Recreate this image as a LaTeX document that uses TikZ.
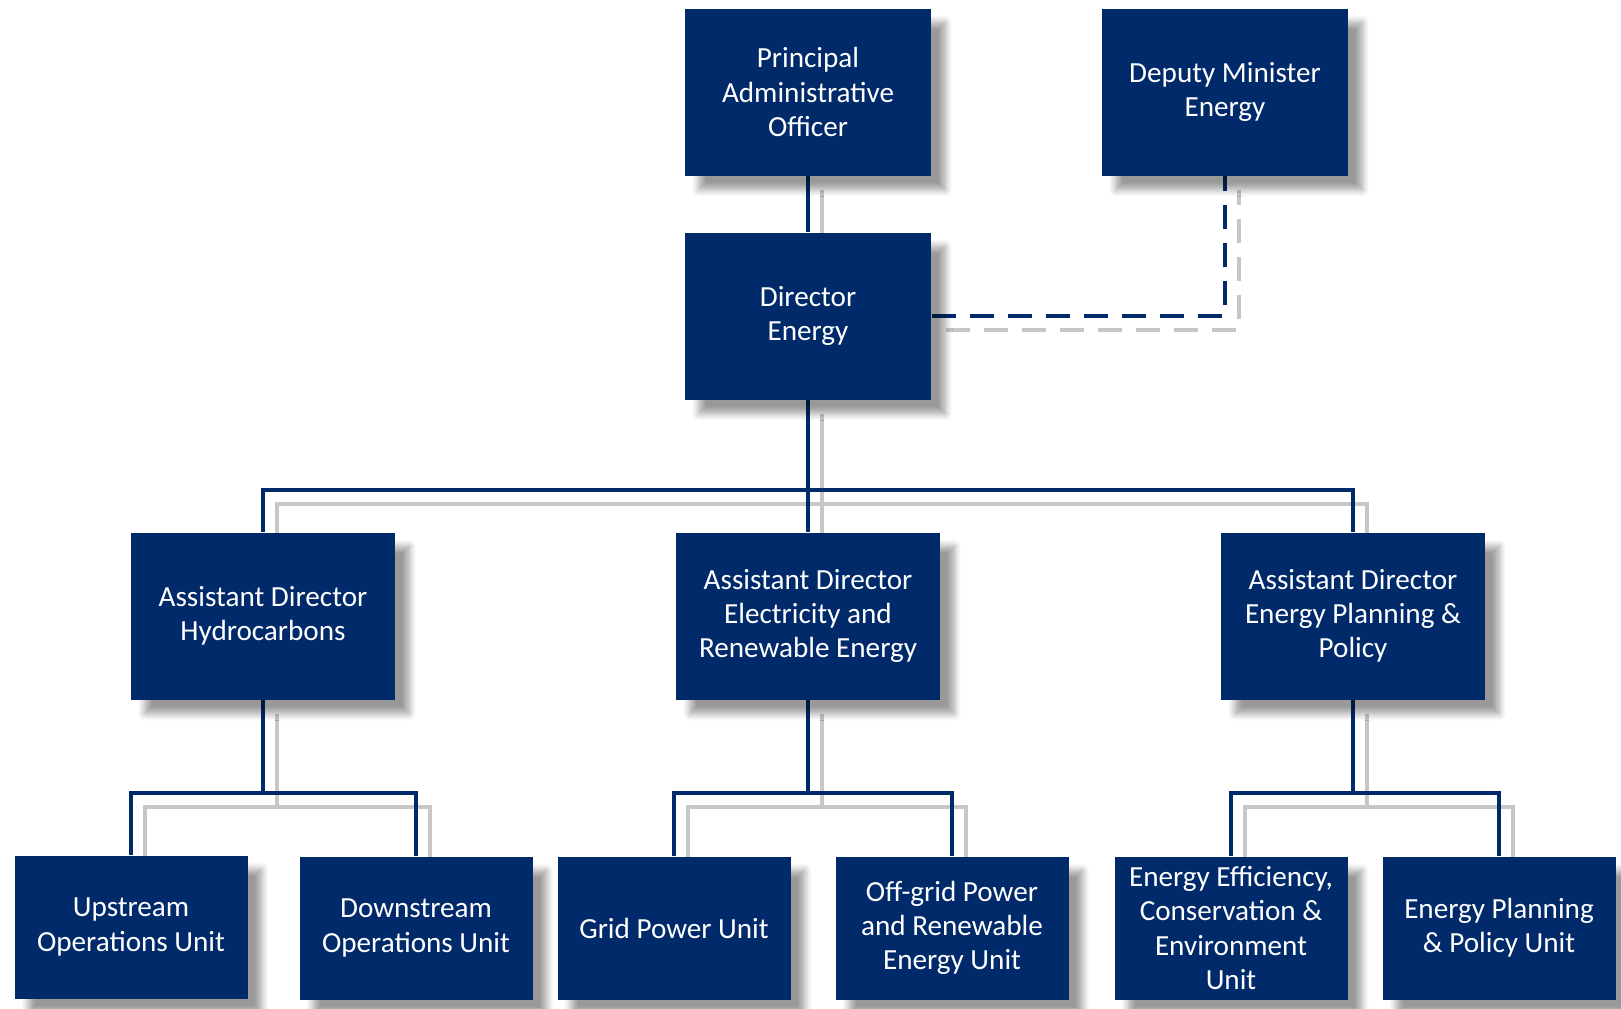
\documentclass[tikz,border=0pt]{standalone}
\usepackage{fontspec}
\setmainfont{Carlito}
\usetikzlibrary{shadows.blur,backgrounds}
\definecolor{navy}{RGB}{1,42,106}

\begin{document}
\begin{tikzpicture}[x=0.1mm, y=-0.1mm,
        unit/.style={rectangle, fill=navy, text=white, align=center, inner sep=0pt,
            font=\fontsize{8.3}{9.7}\selectfont,
            blur shadow={shadow xshift=1.4mm, shadow yshift=-1.4mm, shadow opacity=40,
                shadow blur radius=0.7mm, shadow blur steps=8}},
        top/.style={unit, minimum width=24.6mm, minimum height=16.7mm},
        asst/.style={unit, minimum width=26.4mm, minimum height=16.7mm},
        leaf/.style={unit, minimum width=23.3mm, minimum height=14.3mm},
        conn/.style={draw=#1, line width=1.2pt}]
        \useasboundingbox (0,0) rectangle (1621,1008);

        % Nodes
        \node (pao) [top] at (808,92) {Principal\\Administrative\\Officer};
        \node (dep) [top] at (1225,92) {Deputy Minister\\Energy};
        \node (dir) [top] at (808,316) {Director\\Energy};

        \node (adh) [asst] at (263,616) {Assistant Director\\Hydrocarbons};
        \node (ade) [asst] at (808,616) {Assistant Director\\Electricity and\\Renewable Energy};
        \node (adp) [asst] at (1353,616) {Assistant Director\\Energy Planning \&\\Policy};

        \node (up) [leaf] at (131,927) {Upstream\\Operations Unit};
        \node (down) [leaf] at (416,928) {Downstream\\Operations Unit};
        \node (grid) [leaf] at (674,928) {Grid Power Unit};
        \node (off) [leaf] at (952,928) {Off-grid Power\\and Renewable\\Energy Unit};
        \node (eec) [leaf] at (1231,928) {Energy Efficiency,\\Conservation \&\\Environment\\Unit};
        \node (epu) [leaf] at (1499,928) {Energy Planning\\\& Policy Unit};

        % Bus points
        \coordinate (topbus) at (808,490);
        \coordinate (hbus) at (263,793);
        \coordinate (ebus) at (808,793);
        \coordinate (pbus) at (1353,793);

        % Connectors (grey shadow first, then the line)
        \begin{scope}[on background layer]
            \foreach \col/\dx in {black!22/1.4mm, navy/0mm} {
                \begin{scope}[transform canvas={xshift=\dx, yshift=-\dx}]
                    \draw[conn=\col] (pao) -- (dir);
                    \draw[conn=\col, dash pattern=on 2.4mm off 1.4mm] (dir.east) -| (dep.south);
                    \draw[conn=\col] (dir) -- (ade);
                    \draw[conn=\col] (adh.north) |- (topbus) -| (adp.north);

                    \draw[conn=\col] (adh) -- (hbus);
                    \draw[conn=\col] (up.north) |- (hbus) -| (down.north);
                    \draw[conn=\col] (ade) -- (ebus);
                    \draw[conn=\col] (grid.north) |- (ebus) -| (off.north);
                    \draw[conn=\col] (adp) -- (pbus);
                    \draw[conn=\col] (eec.north) |- (pbus) -| (epu.north);
                \end{scope}
            }
        \end{scope}
    \end{tikzpicture}
\end{document}
